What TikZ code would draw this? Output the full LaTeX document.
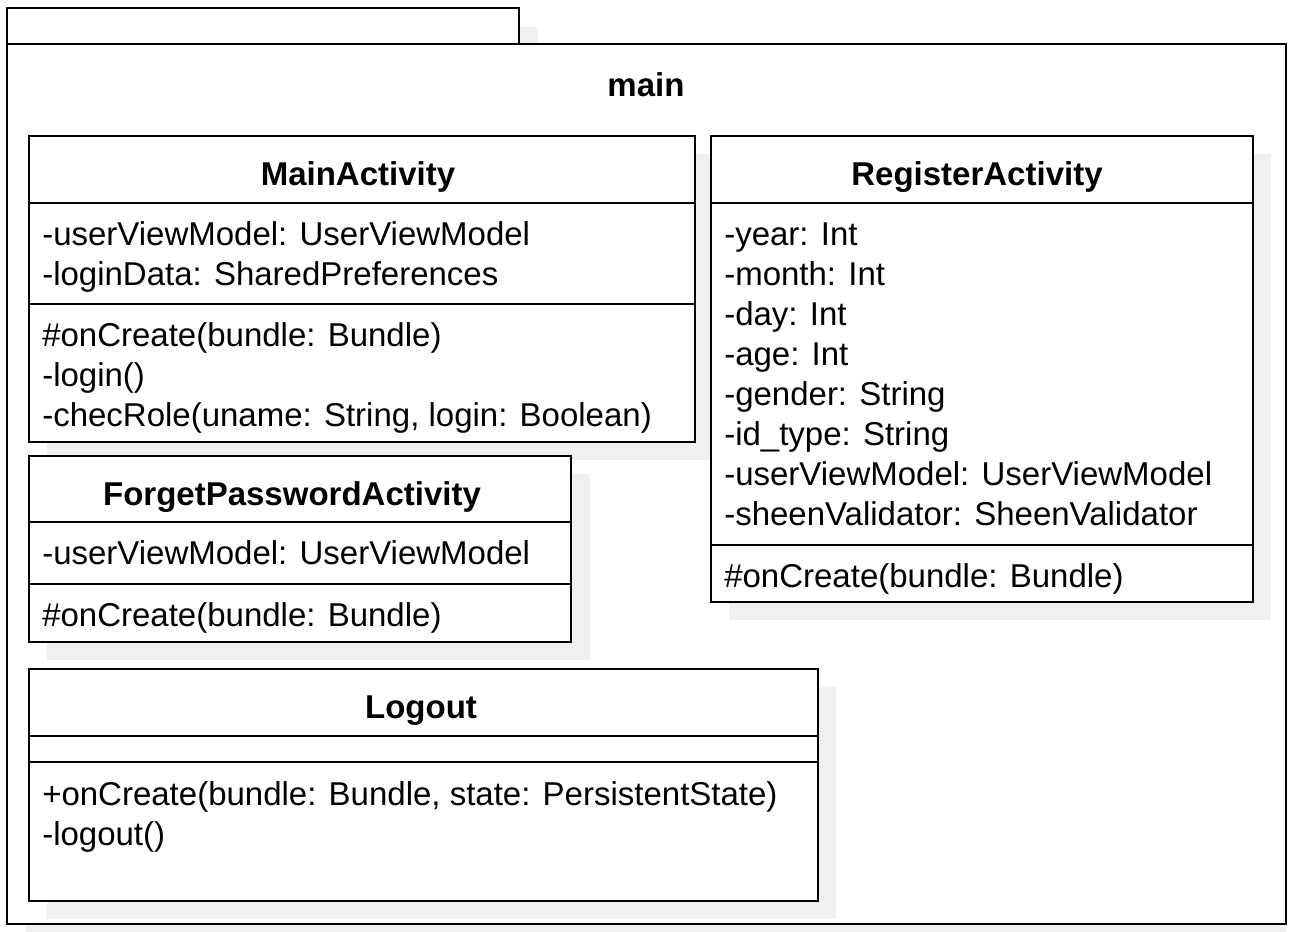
\documentclass[tikz,border=0pt]{standalone}
\usepackage{fontspec}
\setmainfont{Liberation Sans}
\definecolor{shadowgray}{HTML}{F0F0F0}
\tikzset{
  umlbox/.style={draw, fill=white, line width=2pt},
  umlline/.style={line width=2pt},
  umlshadow/.style={fill=shadowgray},
  member/.style={anchor=base west, inner sep=0pt, font=\fontsize{24.75}{30}\selectfont},
  classname/.style={anchor=base, inner sep=0pt, font=\fontsize{24.75}{30}\selectfont\bfseries},
}
\begin{document}
\begin{tikzpicture}[x=0.75pt,y=-0.75pt]
\useasboundingbox (0,0) rectangle (1291,931);

% package
\fill[umlshadow] (26,27) rectangle (538,63);
\fill[umlshadow] (26,63) rectangle (1286,950);
\draw[umlbox] (7,8) rectangle (519,44);
\draw[umlbox] (7,44) rectangle (1286,924);
\node[classname] (main) at (646,96) {main};

% shadows
\fill[umlshadow] (47,154) rectangle (713,460);
\fill[umlshadow] (729,154) rectangle (1271,620);
\fill[umlshadow] (47,474) rectangle (590,660);
\fill[umlshadow] (47,687) rectangle (836,919);

% MainActivity
\draw[umlbox] (29,136) rectangle (695,442);
\draw[umlline] (29,203) -- (695,203) (29,304) -- (695,304);
\node[classname] (ma) at (358,185) {MainActivity};
\foreach \m [count=\i] in {-userViewModel: UserViewModel, -loginData: SharedPreferences}
  \node[member] (ma-a\i) at (42,205+40*\i) {\m};
\foreach \m [count=\i] in {\#onCreate(bundle: Bundle), -login(), {-checRole(uname: String, login: Boolean)}}
  \node[member] (ma-m\i) at (42,306+40*\i) {\m};

% RegisterActivity
\draw[umlbox] (711,136) rectangle (1253,602);
\draw[umlline] (711,203) -- (1253,203) (711,545) -- (1253,545);
\node[classname] (ra) at (977,185) {RegisterActivity};
\foreach \m [count=\i] in {-year: Int, -month: Int, -day: Int, -age: Int, -gender: String,
    -id\_type: String, -userViewModel: UserViewModel, -sheenValidator: SheenValidator}
  \node[member] (ra-a\i) at (724,205+40*\i) {\m};
\node[member] (ra-m1) at (724,587) {\#onCreate(bundle: Bundle)};

% ForgetPasswordActivity
\draw[umlbox] (29,456) rectangle (571,642);
\draw[umlline] (29,522) -- (571,522) (29,584) -- (571,584);
\node[classname] (fpa) at (292,505) {ForgetPasswordActivity};
\node[member] (fpa-a1) at (42,564) {-userViewModel: UserViewModel};
\node[member] (fpa-m1) at (42,626) {\#onCreate(bundle: Bundle)};

% Logout
\draw[umlbox] (29,669) rectangle (818,901);
\draw[umlline] (29,736) -- (818,736) (29,762) -- (818,762);
\node[classname] (lo) at (421,718) {Logout};
\foreach \m [count=\i] in {{+onCreate(bundle: Bundle, state: PersistentState)}, -logout()}
  \node[member] (lo-m\i) at (42,765+40*\i) {\m};

\end{tikzpicture}
\end{document}
